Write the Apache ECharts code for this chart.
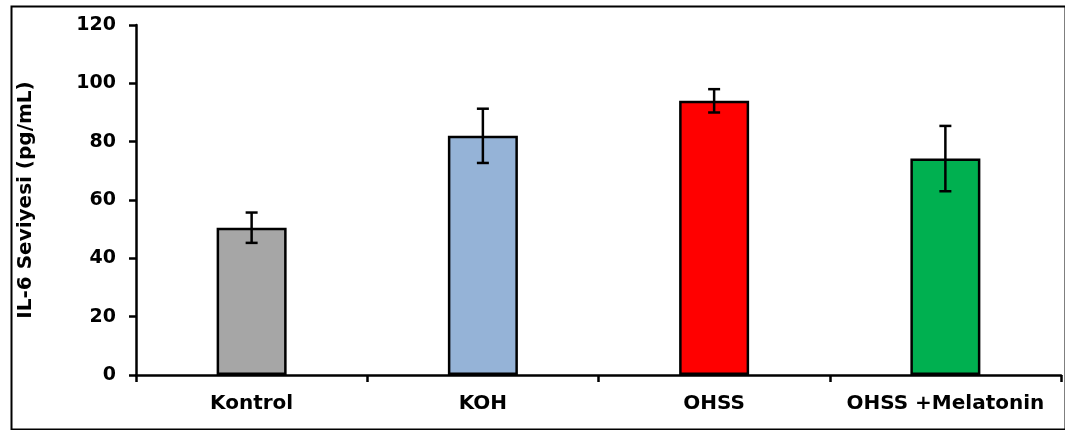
<!DOCTYPE html>
<html><head><meta charset="utf-8">
<script src="https://cdn.jsdelivr.net/npm/echarts@6/dist/echarts.min.js"></script>
<style>html,body{margin:0;padding:0;background:#fff}#c{width:1065px;height:430px}</style>
</head><body><div id="c"></div>
<script>
const categories = ['Kontrol', 'KOH', 'OHSS', 'OHSS +Melatonin'];
const means = [50.5, 82.0, 94.0, 74.2];
const errors = [5.2, 9.3, 4.0, 11.2];
const colors = ['#a6a6a6', '#95b3d7', '#ff0000', '#00b050'];
const yTicks = [0, 20, 40, 60, 80, 100, 120];
const yTitle = 'IL-6 Seviyesi (pg/mL)';

const FONT = 'DejaVu Sans';
const chart = echarts.init(document.getElementById('c'));
chart.setOption({
  animation: false,
  graphic: [{
    type: 'rect', left: 9, top: 4, shape: {width: 1054, height: 423},
    style: {fill: 'none', stroke: '#000', lineWidth: 2}, silent: true, z: 100
  }],
  grid: {left: 136, top: 25, right: 4, bottom: 55, containLabel: false},
  xAxis: {
    type: 'category', data: categories,
    axisLine: {lineStyle: {color: '#000', width: 2.5}},
    axisTick: {show: true, interval: 0, length: 7, lineStyle: {color: '#000', width: 2.5}, alignWithLabel: false},
    axisLabel: {interval: 0, color: '#000', fontFamily: FONT, fontWeight: 'bold', fontSize: 20, margin: 19}
  },
  yAxis: {
    type: 'value', min: yTicks[0], max: yTicks[yTicks.length - 1], interval: 20,
    name: yTitle, nameLocation: 'middle', nameGap: 100, nameRotate: 90,
    nameTextStyle: {color: '#000', fontFamily: FONT, fontWeight: 'bold', fontSize: 20},
    axisLine: {show: true, lineStyle: {color: '#000', width: 2.5}},
    axisTick: {show: true, length: 7, lineStyle: {color: '#000', width: 2.5}},
    splitLine: {show: false},
    axisLabel: {color: '#000', fontFamily: FONT, fontWeight: 'bold', fontSize: 19, margin: 20}
  },
  series: [{
    type: 'bar', barWidth: 70,
    data: means.map((v, i) => ({value: v, itemStyle: {color: colors[i]}})),
    itemStyle: {borderColor: '#000', borderWidth: 2.5}
  }, {
    type: 'custom', z: 10,
    data: means.map((v, i) => [i, v - errors[i], v + errors[i]]),
    renderItem: function (params, api) {
      const lo = api.coord([api.value(0), api.value(1)]);
      const hi = api.coord([api.value(0), api.value(2)]);
      const w = 6;
      const st = {stroke: '#000', lineWidth: 2.5};
      return {type: 'group', children: [
        {type: 'line', shape: {x1: hi[0], y1: hi[1], x2: lo[0], y2: lo[1]}, style: st},
        {type: 'line', shape: {x1: hi[0] - w, y1: hi[1], x2: hi[0] + w, y2: hi[1]}, style: st},
        {type: 'line', shape: {x1: lo[0] - w, y1: lo[1], x2: lo[0] + w, y2: lo[1]}, style: st}
      ]};
    }
  }]
});
</script></body></html>
